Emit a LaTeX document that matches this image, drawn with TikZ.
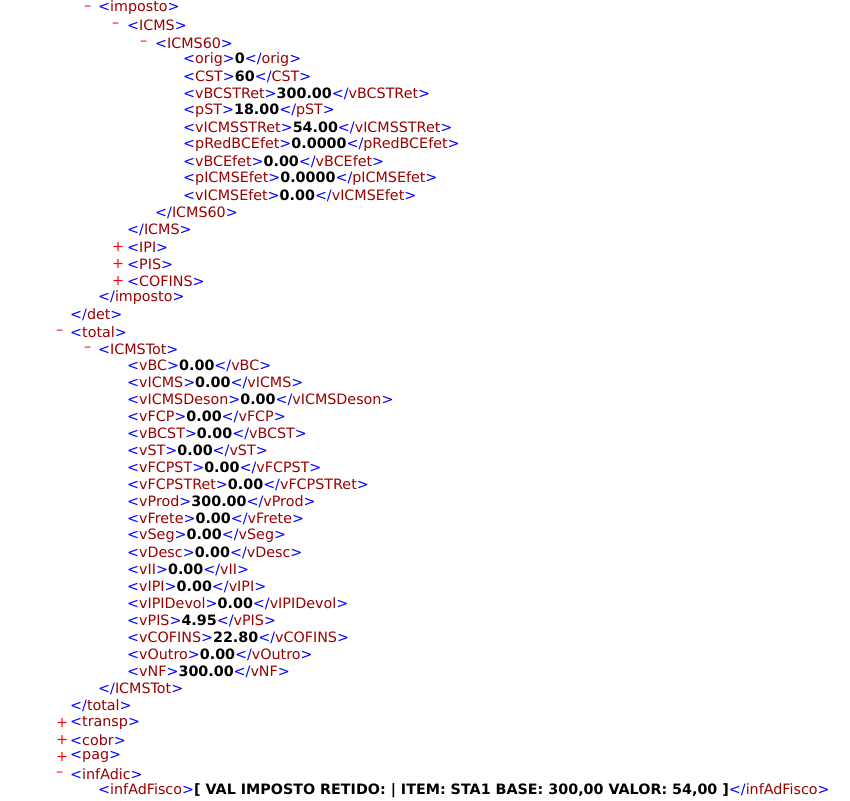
\documentclass[tikz,border=0pt]{standalone}
\usepackage{fontspec}
\setmainfont{DejaVu Sans}
\definecolor{xmlbr}{RGB}{0,0,255}
\definecolor{xmltag}{RGB}{153,0,0}
\definecolor{xmlsign}{RGB}{255,0,0}
\newcommand{\xo}[1]{\textcolor{xmlbr}{<}\textcolor{xmltag}{#1}\textcolor{xmlbr}{>}}
\newcommand{\xc}[1]{\textcolor{xmlbr}{</}\textcolor{xmltag}{#1}\textcolor{xmlbr}{>}}
\newcommand{\xv}[2]{\xo{#1}\textbf{#2}\xc{#1}}
\newcommand{\xs}[1]{\textcolor{xmlsign}{#1}}
\begin{document}
\begin{tikzpicture}[x=1pt,y=1pt,
  line/.style={anchor=west,inner sep=0pt,font=\fontsize{14.3}{16}\selectfont},
  sign/.style={line,anchor=west}]
\fill[white] (0,0) rectangle (850,-800);
\useasboundingbox (0,0) rectangle (850,-800);
% imposto block
\node[sign] (s1) at (84,-8) {\xs{–}};
\node[line] (l1) at (98,-8) {\xo{imposto}};
\node[sign] (s2) at (112,-25) {\xs{–}};
\node[line] (l2) at (127,-25) {\xo{ICMS}};
\node[sign] (s3) at (140,-43) {\xs{–}};
\node[line] (l3) at (155,-43) {\xo{ICMS60}};
\node[line] (l4) at (183,-60) {\xv{orig}{0}};
\node[line] (l5) at (183,-77) {\xv{CST}{60}};
\node[line] (l6) at (183,-94) {\xv{vBCSTRet}{300.00}};
\node[line] (l7) at (183,-111) {\xv{pST}{18.00}};
\node[line] (l8) at (183,-128) {\xv{vICMSSTRet}{54.00}};
\node[line] (l9) at (183,-145) {\xv{pRedBCEfet}{0.0000}};
\node[line] (l10) at (183,-162) {\xv{vBCEfet}{0.00}};
\node[line] (l11) at (183,-179) {\xv{pICMSEfet}{0.0000}};
\node[line] (l12) at (183,-196) {\xv{vICMSEfet}{0.00}};
\node[line] (l13) at (155,-213) {\xc{ICMS60}};
\node[line] (l14) at (127,-230) {\xc{ICMS}};
\node[sign] (s15) at (112,-247) {\xs{+}};
\node[line] (l15) at (127,-247) {\xo{IPI}};
\node[sign] (s16) at (112,-264) {\xs{+}};
\node[line] (l16) at (127,-264) {\xo{PIS}};
\node[sign] (s17) at (112,-281) {\xs{+}};
\node[line] (l17) at (127,-281) {\xo{COFINS}};
\node[line] (l18) at (98,-298) {\xc{imposto}};
\node[line] (l19) at (70,-315) {\xc{det}};
% total block
\node[sign] (s20) at (56,-332) {\xs{–}};
\node[line] (l20) at (70,-332) {\xo{total}};
\node[sign] (s21) at (84,-349) {\xs{–}};
\node[line] (l21) at (98,-349) {\xo{ICMSTot}};
\node[line] (l22) at (127,-366) {\xv{vBC}{0.00}};
\node[line] (l23) at (127,-383) {\xv{vICMS}{0.00}};
\node[line] (l24) at (127,-400) {\xv{vICMSDeson}{0.00}};
\node[line] (l25) at (127,-417) {\xv{vFCP}{0.00}};
\node[line] (l26) at (127,-434) {\xv{vBCST}{0.00}};
\node[line] (l27) at (127,-451) {\xv{vST}{0.00}};
\node[line] (l28) at (127,-468) {\xv{vFCPST}{0.00}};
\node[line] (l29) at (127,-485) {\xv{vFCPSTRet}{0.00}};
\node[line] (l30) at (127,-502) {\xv{vProd}{300.00}};
\node[line] (l31) at (127,-519) {\xv{vFrete}{0.00}};
\node[line] (l32) at (127,-536) {\xv{vSeg}{0.00}};
\node[line] (l33) at (127,-553) {\xv{vDesc}{0.00}};
\node[line] (l34) at (127,-570) {\xv{vII}{0.00}};
\node[line] (l35) at (127,-587) {\xv{vIPI}{0.00}};
\node[line] (l36) at (127,-604) {\xv{vIPIDevol}{0.00}};
\node[line] (l37) at (127,-621) {\xv{vPIS}{4.95}};
\node[line] (l38) at (127,-638) {\xv{vCOFINS}{22.80}};
\node[line] (l39) at (127,-655) {\xv{vOutro}{0.00}};
\node[line] (l40) at (127,-672) {\xv{vNF}{300.00}};
\node[line] (l41) at (98,-689) {\xc{ICMSTot}};
\node[line] (l42) at (70,-706) {\xc{total}};
% collapsed and infAdic
\node[sign] (s43) at (56,-723) {\xs{+}};
\node[line] (l43) at (70,-723) {\xo{transp}};
\node[sign] (s44) at (56,-740) {\xs{+}};
\node[line] (l44) at (70,-740) {\xo{cobr}};
\node[sign] (s45) at (56,-757) {\xs{+}};
\node[line] (l45) at (70,-757) {\xo{pag}};
\node[sign] (s46) at (56,-774) {\xs{–}};
\node[line] (l46) at (70,-774) {\xo{infAdic}};
\node[line] (l47) at (98,-791) {\xv{infAdFisco}{[ VAL IMPOSTO RETIDO: | ITEM: STA1 BASE: 300,00 VALOR: 54,00 ]}};
\end{tikzpicture}
\end{document}
